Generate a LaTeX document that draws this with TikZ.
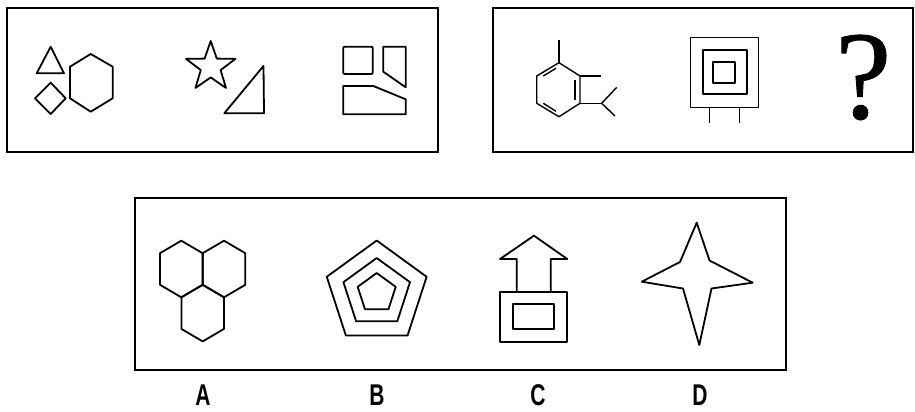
\documentclass[tikz,border=0pt]{standalone}
\usepackage{fontspec}
\setmainfont{Liberation Serif}
\newfontfamily\lblfont{Liberation Sans}
\newfontfamily\qfont[BoldFont={Liberation Serif},BoldFeatures={FakeBold=0.7}]{Liberation Serif}
\begin{document}
\begin{tikzpicture}[x=1pt,y=-1pt,
  frame/.style={line width=2.8pt},
  fig/.style={line width=1.8pt,line join=round},
  thin fig/.style={line width=1.4pt,line join=round},
  lbl/.style={font=\lblfont\bfseries\fontsize{30}{30}\selectfont,xscale=0.7,inner sep=0pt}]
\useasboundingbox (0,0) rectangle (915,412);
% frames
\draw[frame] (7,8) rectangle (438,152);
\draw[frame] (493,8) rectangle (913,152);
\draw[frame] (135,198) rectangle (786,370);
% ---- box 1, figure 1
\draw[fig] (50.7,46.7) -- (64,73.3) -- (36.7,73.3) -- cycle;
\draw[fig] (50.7,82.7) -- (65.7,98.3) -- (50.7,114) -- (35,98.3) -- cycle;
\draw[fig] (90.7,54) -- (112.7,66.7) -- (112.7,98.3) -- (90.7,111.7) -- (70,98.3) -- (70,66.7) -- cycle;
% figure 2
\draw[fig] (210.7,41) -- (216.8,58.6) -- (235.4,58.9) -- (220.6,70.1) -- (226,88) -- (210.7,77.4)
  -- (195.4,88) -- (200.8,70.1) -- (186,58.9) -- (204.6,58.6) -- cycle;
\draw[fig] (263.5,66) -- (264,113.3) -- (224.3,113.3) -- cycle;
% figure 3
\draw[fig,rounded corners=1pt] (343.3,46.7) rectangle (372.7,74);
\draw[fig] (383.3,46.7) -- (405.7,46.7) -- (405.7,87.3) -- (383.3,71.7) -- cycle;
\draw[fig] (343.3,86) -- (373.3,86) -- (405.7,99.3) -- (405.7,114.3) -- (343.3,114.3) -- cycle;
% ---- box 2, figure 1 (benzene-like)
\draw[thin fig] (559,62.7) -- (580,76) -- (580,103.3) -- (559,116.7) -- (536.7,103.3) -- (536.7,76) -- cycle;
\draw[thin fig] (559,62.7) -- (559,40);
\draw[thin fig] (580,76) -- (600.7,76);
\draw[thin fig] (580,103.3) -- (601.7,103.3);
\draw[thin fig] (601.7,103.3) -- (616.7,87.3);
\draw[thin fig] (601.7,103.3) -- (615,116);
\draw[thin fig] (543.3,76) -- (556,68.3);
\draw[thin fig] (575,80) -- (575,100);
\draw[thin fig] (543.3,103.3) -- (556,111.3);
% figure 2 (nested squares with legs)
\draw[thin fig] (690.7,37.7) rectangle (758.3,107.3);
\draw[fig] (702.7,50) rectangle (746.7,94.3);
\draw[fig] (713.3,61.7) rectangle (735,82.7);
\draw[thin fig] (709.3,107.3) -- (709.3,123.3);
\draw[thin fig] (739.3,107.3) -- (739.3,123.3);
% question mark
\node[anchor=base,inner sep=0pt,font=\qfont\bfseries\fontsize{126}{126}\selectfont] (q) at (863.3,118.3) {?};
% ---- box 3: A hexagons
\foreach \cx/\cy in {181.3/269, 224/269, 202.7/313.1} {
  \draw[fig] (\cx,\cy-28.3) -- (\cx+21.3,\cy-15.8) -- (\cx+21.3,\cy+15.8) -- (\cx,\cy+28.3)
    -- (\cx-21.3,\cy+15.8) -- (\cx-21.3,\cy-15.8) -- cycle;
}
% B pentagons
\foreach \r in {52.5,35,20} {
  \draw[fig] (376.7,293) +(-90:\r) -- +(-18:\r) -- +(54:\r) -- +(126:\r) -- +(198:\r) -- cycle;
}
% C arrow + rectangles
\draw[fig] (516.7,291.7) -- (516.7,259) -- (500,259) -- (534,235.7) -- (567.3,259) -- (550.7,259) -- (550.7,291.7);
\draw[fig] (500,291.7) rectangle (567.3,341.7);
\draw[fig] (513.3,304) rectangle (554.3,329.3);
% D four-pointed star
\draw[fig] (696.7,222.7) -- (709.5,260.5) -- (752.7,282.7) -- (711.5,288.5) -- (699.3,345)
  -- (683,288.5) -- (641.7,281.7) -- (680,262) -- cycle;
% labels
\node[lbl] (la) at (203,395) {A};
\node[lbl] (lb) at (377,395) {B};
\node[lbl] (lc) at (538,395) {C};
\node[lbl] (ld) at (700,395) {D};
\end{tikzpicture}
\end{document}
